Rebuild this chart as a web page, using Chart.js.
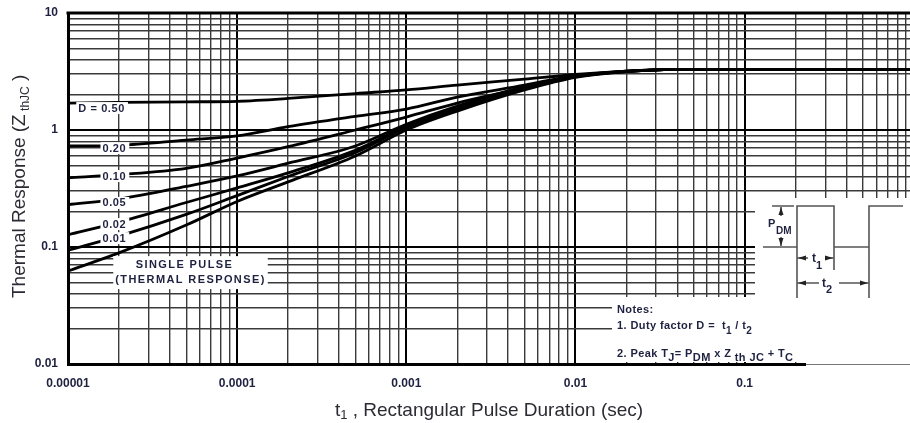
<!DOCTYPE html>
<html>
<head>
<meta charset="utf-8">
<script src="https://cdn.jsdelivr.net/npm/chart.js@4.4.1/dist/chart.umd.min.js"></script>
<style>
html, body { margin: 0; padding: 0; background: #fff; }
#wrap { position: relative; width: 910px; height: 423px; }
</style>
</head>
<body>
<div id="wrap"><canvas id="zthChart"></canvas></div>
<script>
// Durées d'impulsion t1 (s) et réponses
const pulseTimes = [1e-5, 2e-5, 5e-5, 1e-4, 2e-4, 5e-4, 1e-3, 2e-3, 5e-3, 1e-2, 2e-2, 3e-2, 5e-2, 0.1, 0.2, 0.5, 1];

const zD050   = [1.70, 1.72, 1.74, 1.76, 1.86, 2.05, 2.20, 2.42, 2.72, 2.98, 3.19, 3.27, 3.30, 3.30, 3.30, 3.30, 3.30];
const zD020   = [0.73, 0.74, 0.82, 0.89, 1.07, 1.31, 1.51, 1.91, 2.42, 2.92, 3.18, 3.27, 3.30, 3.30, 3.30, 3.30, 3.30];
const zD010   = [0.39, 0.415, 0.47, 0.576, 0.72, 1.00, 1.29, 1.70, 2.29, 2.90, 3.18, 3.27, 3.30, 3.30, 3.30, 3.30, 3.30];
const zD005   = [0.23, 0.257, 0.33, 0.405, 0.52, 0.73, 1.12, 1.60, 2.35, 2.88, 3.17, 3.27, 3.30, 3.30, 3.30, 3.30, 3.30];
const zD002   = [0.127, 0.163, 0.24, 0.32, 0.43, 0.67, 1.08, 1.55, 2.30, 2.86, 3.17, 3.27, 3.30, 3.30, 3.30, 3.30, 3.30];
const zD001   = [0.094, 0.124, 0.19, 0.275, 0.40, 0.64, 1.05, 1.50, 2.25, 2.85, 3.16, 3.27, 3.30, 3.30, 3.30, 3.30, 3.30];
const zSingle = [0.0624, 0.089, 0.154, 0.245, 0.36, 0.60, 1.00, 1.45, 2.20, 2.82, 3.15, 3.27, 3.30, 3.30, 3.30, 3.30, 3.30];

const curveNames = ['D = 0.50', '0.20', '0.10', '0.05', '0.02', '0.01'];
const curveLabelT = [1.58e-5, 1.88e-5, 1.88e-5, 1.88e-5, 1.88e-5, 1.88e-5];
const curveLabelZ = [1.54, 0.70, 0.404, 0.238, 0.157, 0.119];

const xDecades = [1e-5, 1e-4, 1e-3, 1e-2, 1e-1];
const xTickLabels = ['0.00001', '0.0001', '0.001', '0.01', '0.1'];
const yDecades = [0.01, 0.1, 1, 10];
const yTickLabels = ['0.01', '0.1', '1', '10'];

const FONT = "'Liberation Sans', Arial, sans-serif";
const INK = '#1e2140';

function isDecade(v) {
    const l = Math.log10(v);
    return Math.abs(l - Math.round(l)) < 1e-6;
}
function labelFor(v, decades, labels) {
    const i = decades.findIndex(d => Math.abs(d - v) / d < 1e-6);
    return i >= 0 ? labels[i] : '';
}
function logTicks(min, max) {
    const out = [];
    for (let e = Math.floor(Math.log10(min)); e <= Math.ceil(Math.log10(max)); e++) {
        for (let m = 1; m <= 9; m++) {
            const v = m * Math.pow(10, e);
            if (v >= min * 0.999999 && v <= max * 1.000001) out.push({ value: v });
        }
    }
    return out;
}

// texte avec indices : segments [texte, indice?, graisse]
function drawRich(ctx, x, y, parts, size, subSize, subDrop) {
    let cx = x;
    parts.forEach(p => {
        ctx.font = (p[2] || 'bold') + ' ' + (p[1] ? subSize : size) + 'px ' + FONT;
        ctx.fillText(p[0], cx, p[1] ? y + subDrop : y);
        cx += ctx.measureText(p[0]).width;
    });
    return cx;
}
function richWidth(ctx, parts, size, subSize) {
    let w = 0;
    parts.forEach(p => {
        ctx.font = (p[2] || 'bold') + ' ' + (p[1] ? subSize : size) + 'px ' + FONT;
        w += ctx.measureText(p[0]).width;
    });
    return w;
}
function arrow(ctx, x, y, dir) {
    // petite flèche pleine, dir = 'l','r','u','d'
    ctx.beginPath();
    if (dir === 'l') { ctx.moveTo(x, y); ctx.lineTo(x + 8, y - 2.5); ctx.lineTo(x + 8, y + 2.5); }
    if (dir === 'r') { ctx.moveTo(x, y); ctx.lineTo(x - 8, y - 2.5); ctx.lineTo(x - 8, y + 2.5); }
    if (dir === 'u') { ctx.moveTo(x, y); ctx.lineTo(x - 2.5, y + 8); ctx.lineTo(x + 2.5, y + 8); }
    if (dir === 'd') { ctx.moveTo(x, y); ctx.lineTo(x - 2.5, y - 8); ctx.lineTo(x + 2.5, y - 8); }
    ctx.closePath();
    ctx.fill();
}

const annotations = {
    id: 'annotations',
    beforeDatasetsDraw(chart) {
        const { ctx, chartArea: a } = chart;
        ctx.save();
        ctx.fillStyle = '#fff';
        ctx.fillRect(755, 198, a.right - 755 + 2, a.bottom - 198 - 2);   // schéma
        ctx.fillRect(612, 297, 755 - 612 + 1, a.bottom - 297 - 2);       // notes
        ctx.restore();
    },
    afterDatasetsDraw(chart) {
        const { ctx, scales: { x, y } } = chart;
        ctx.save();
        ctx.letterSpacing = '0.6px';
        ctx.font = 'bold 11px ' + FONT;
        ctx.textBaseline = 'middle';
        ctx.textAlign = 'center';
        curveNames.forEach((name, i) => {
            const px = x.getPixelForValue(curveLabelT[i]);
            const py = y.getPixelForValue(curveLabelZ[i]);
            const w = ctx.measureText(name).width;
            ctx.fillStyle = '#fff';
            ctx.fillRect(px - w / 2 - 2, py - 6, w + 5, 12);
            ctx.fillStyle = INK;
            ctx.fillText(name, px, py + 0.5);
        });
        // SINGLE PULSE
        const sx = x.getPixelForValue(5.3e-5);
        const sy = y.getPixelForValue(0.061);
        ctx.letterSpacing = '1.4px';
        const w2 = ctx.measureText('(THERMAL RESPONSE)').width;
        ctx.fillStyle = '#fff';
        ctx.fillRect(sx - w2 / 2 - 2, sy - 16, w2 + 4, 33);
        ctx.fillStyle = INK;
        ctx.fillText('SINGLE PULSE', sx - 6, sy - 7);
        ctx.fillText('(THERMAL RESPONSE)', sx, sy + 8);
        ctx.restore();
    },
    afterDraw(chart) {
        const { ctx, chartArea: a } = chart;
        ctx.save();
        // bord supérieur
        ctx.strokeStyle = '#000';
        ctx.lineWidth = 3;
        ctx.beginPath();
        ctx.moveTo(a.left - 1.5, a.top);
        ctx.lineTo(a.right, a.top);
        ctx.stroke();
        // bas de l'axe plus fin après les notes
        ctx.fillStyle = '#fff';
        ctx.fillRect(806, a.bottom - 2, a.right - 806, 4);
        ctx.strokeStyle = '#777';
        ctx.lineWidth = 1;
        ctx.beginPath();
        ctx.moveTo(806, a.bottom + 0.5);
        ctx.lineTo(a.right, a.bottom + 0.5);
        ctx.stroke();

        // titres des axes
        ctx.fillStyle = '#2b2b33';
        ctx.textBaseline = 'alphabetic';
        ctx.textAlign = 'left';
        const xt = [['t', false, 'normal'], ['1', true, 'normal'], [' , Rectangular Pulse Duration (sec)', false, 'normal']];
        const xw = richWidth(ctx, xt, 19, 13);
        drawRich(ctx, (a.left + a.right) / 2 - xw / 2, 416, xt, 19, 13, 3);

        ctx.save();
        ctx.translate(25, 298);
        ctx.rotate(-Math.PI / 2);
        const yt = [['Thermal Response (Z', false, 'normal'], [' thJC', true, 'normal'], [' )', false, 'normal']];
        drawRich(ctx, 0, 0, yt, 19, 12, 4);
        ctx.restore();

        // notes
        ctx.fillStyle = INK;
        ctx.letterSpacing = '0.4px';
        drawRich(ctx, 617, 313, [['Notes:', false]], 11, 9, 4);
        drawRich(ctx, 617, 329, [['1. Duty factor D =  t', false], ['1', true], [' / t', false], ['2', true]], 11, 10, 5);
        drawRich(ctx, 617, 357, [['2. Peak T', false], ['J', true], ['= P', false], ['DM', true], [' x Z', false], [' th JC', true], [' + T', false], ['C', true]], 11, 11, 4);

        // schéma de l'impulsion
        ctx.strokeStyle = '#555';
        ctx.fillStyle = '#222';
        ctx.lineWidth = 1.6;
        ctx.beginPath();
        ctx.moveTo(763, 247); ctx.lineTo(797, 247); ctx.lineTo(797, 206); ctx.lineTo(834, 206);
        ctx.lineTo(834, 247); ctx.lineTo(869, 247); ctx.lineTo(869, 206); ctx.lineTo(903, 206);
        ctx.moveTo(772, 206); ctx.lineTo(794, 206);
        ctx.moveTo(781, 207); ctx.lineTo(781, 216);
        ctx.moveTo(781, 237); ctx.lineTo(781, 246);
        ctx.moveTo(797, 247); ctx.lineTo(797, 298);
        ctx.moveTo(834, 247); ctx.lineTo(834, 270);
        ctx.moveTo(869, 247); ctx.lineTo(869, 298);
        ctx.moveTo(797, 258); ctx.lineTo(808, 258);
        ctx.moveTo(825, 258); ctx.lineTo(834, 258);
        ctx.moveTo(797, 283); ctx.lineTo(819, 283);
        ctx.moveTo(839, 283); ctx.lineTo(869, 283);
        ctx.stroke();
        arrow(ctx, 781, 207, 'u');
        arrow(ctx, 781, 246, 'd');
        arrow(ctx, 798, 258, 'l');
        arrow(ctx, 833, 258, 'r');
        arrow(ctx, 798, 283, 'l');
        arrow(ctx, 868, 283, 'r');
        ctx.fillStyle = INK;
        ctx.letterSpacing = '0px';
        drawRich(ctx, 768, 227, [['P', false]], 11, 9, 0);
        drawRich(ctx, 776, 234, [['DM', false]], 10, 9, 0);
        drawRich(ctx, 812, 262, [['t', false], ['1', true]], 12, 11, 7);
        drawRich(ctx, 822, 287, [['t', false], ['2', true]], 12, 11, 6);
        ctx.restore();
    }
};

const curveSeries = [zD050, zD020, zD010, zD005, zD002, zD001, zSingle];
const datasets = curveSeries.map((serie, k) => ({
    label: k < curveNames.length ? curveNames[k] : 'SINGLE PULSE',
    data: pulseTimes.map((t, i) => ({ x: t, y: serie[i] })),
    borderColor: '#000',
    borderWidth: 2.8,
    pointRadius: 0,
    fill: false,
    cubicInterpolationMode: 'monotone'
}));

const gridColor = c => (c.tick && isDecade(c.tick.value)) ? '#000' : '#3a3a3a';
const gridWidth = c => (c.tick && isDecade(c.tick.value)) ? 2 : 1.4;

const ctx = document.getElementById('zthChart').getContext('2d');
const zthChart = new Chart(ctx, {
    type: 'line',
    data: { datasets },
    options: {
        responsive: true,
        maintainAspectRatio: false,
        animation: false,
        layout: { padding: { top: 13, left: 0, right: 0, bottom: 0 } },
        plugins: { legend: { display: false }, tooltip: { enabled: false } },
        scales: {
            x: {
                type: 'logarithmic',
                min: 1e-5,
                max: 0.95,
                afterBuildTicks: s => { s.ticks = logTicks(1e-5, 0.95); },
                afterFit: s => { s.height = 59; s.paddingLeft = 0; s.paddingRight = 0; },
                grid: { color: gridColor, lineWidth: gridWidth, drawTicks: false },
                border: { color: '#000', width: 3 },
                ticks: {
                    autoSkip: false, maxRotation: 0, padding: 12,
                    color: INK, font: { family: FONT, size: 12, weight: 'bold' },
                    callback: v => labelFor(v, xDecades, xTickLabels)
                }
            },
            y: {
                type: 'logarithmic',
                min: 0.01,
                max: 10,
                afterBuildTicks: s => { s.ticks = logTicks(0.01, 10); },
                afterFit: s => { s.width = 68; s.paddingTop = 0; s.paddingBottom = 0; },
                grid: { color: gridColor, lineWidth: gridWidth, drawTicks: false },
                border: { color: '#000', width: 3 },
                ticks: {
                    autoSkip: false, padding: 10,
                    color: INK, font: { family: FONT, size: 12, weight: 'bold' },
                    callback: v => labelFor(v, yDecades, yTickLabels)
                }
            }
        }
    },
    plugins: [annotations]
});
</script>
</body>
</html>
